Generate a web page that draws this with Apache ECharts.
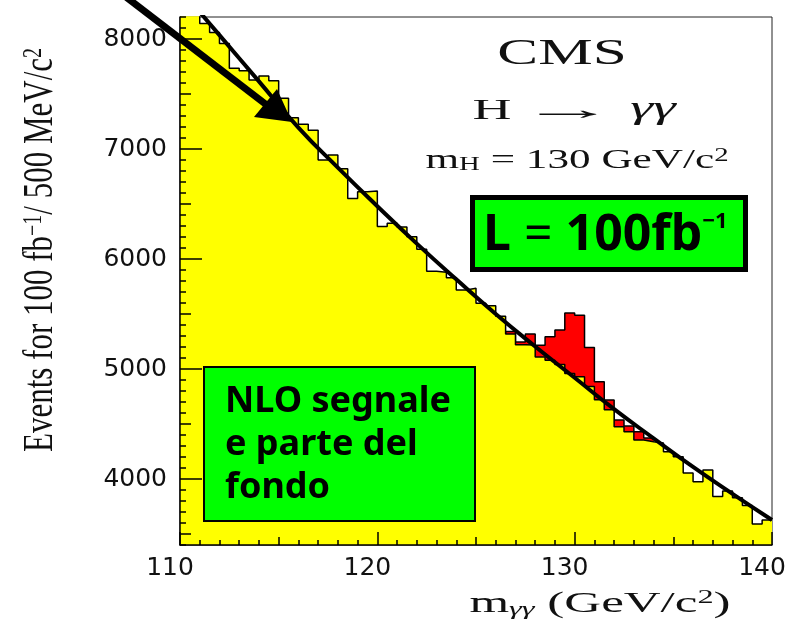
<!DOCTYPE html>
<html>
<head>
<meta charset="utf-8">
<script src="https://cdn.jsdelivr.net/npm/echarts@6/dist/echarts.min.js"></script>
<style>
  html, body { margin: 0; padding: 0; background: #ffffff; }
  #chart { width: 792px; height: 629px; }
</style>
</head>
<body>
<div id="chart"></div>
<script>
// ---- data ----
// low edges of the 0.5 GeV bins
const binLow = [110, 110.5, 111, 111.5, 112, 112.5, 113, 113.5, 114, 114.5,
  115, 115.5, 116, 116.5, 117, 117.5, 118, 118.5, 119, 119.5,
  120, 120.5, 121, 121.5, 122, 122.5, 123, 123.5, 124, 124.5,
  125, 125.5, 126, 126.5, 127, 127.5, 128, 128.5, 129, 129.5,
  130, 130.5, 131, 131.5, 132, 132.5, 133, 133.5, 134, 134.5,
  135, 135.5, 136, 136.5, 137, 137.5, 138, 138.5, 139, 139.5];
const histHigh = 140;
// yellow histogram (background) events per bin
const background = [8450, 8300, 8140, 8060, 7960, 7734, 7712, 7627, 7664, 7621,
  7461, 7285, 7225, 7170, 6900, 6945, 6820, 6550, 6612, 6618,
  6296, 6326, 6290, 6203, 6088, 5888, 5880, 5830, 5718, 5735,
  5597, 5575, 5480, 5318, 5220, 5218, 5110, 5080, 5040, 4960,
  4930, 4840, 4720, 4630, 4476, 4430, 4355, 4339, 4327, 4248,
  4203, 4054, 3975, 4082, 3840, 3890, 3830, 3760, 3590, 3627];
// red histogram (signal + background) in the signal region
const signalBinLow = [126.5, 127, 127.5, 128, 128.5, 129, 129.5, 130, 130.5, 131,
  131.5, 132, 132.5, 133, 133.5];
const signalHigh = 134;
const signalTotal = [5340, 5245, 5318, 5215, 5294, 5355, 5510, 5488, 5195, 4885,
  4718, 4536, 4482, 4430, 4372];
// fitted curve
const fitMass = [111, 112, 114, 116, 118, 120, 122, 124, 126, 128, 130, 132, 134, 136, 138, 140];
const fitValue = [8245, 8035, 7615, 7195, 6830, 6480, 6140, 5815, 5500, 5205, 4920, 4635, 4370, 4110, 3865, 3627];
// ticks
const xTickLabels = [110, 120, 130, 140];
const xMidTicks = [115, 125, 135];
const yTickLabels = [4000, 5000, 6000, 7000, 8000];
const yMidTicks = [3500, 4500, 5500, 6500, 7500];

// ---- build series data ----
const yellowData = binLow.map((x, i) => [x, background[i]]);
yellowData.push([histHigh, background[background.length - 1]]);
const firstSig = binLow.indexOf(signalBinLow[0]);
const redData = [[signalBinLow[0], background[firstSig]]]
  .concat(signalBinLow.map((x, i) => [x, signalTotal[i]]));
redData.push([signalHigh, signalTotal[signalTotal.length - 1]]);
const fitData = fitMass.map((x, i) => [x, fitValue[i]]);

const chart = echarts.init(document.getElementById('chart'), null, { renderer: 'canvas' });

const black = '#000000';
const xBase = { type: 'value', min: 110, max: 140, position: 'bottom', z: 10, splitLine: { show: false } };
const yBase = { type: 'value', min: 3400, max: 8200, position: 'left', z: 10, splitLine: { show: false } };

const serif = 'Liberation Serif';
const option = {
  animation: false,
  backgroundColor: '#ffffff',
  grid: { left: 180, right: 20, top: 17, bottom: 84, show: true, borderColor: '#222', borderWidth: 1, backgroundColor: '#ffffff' },
  xAxis: [
    Object.assign({}, xBase, {
      axisLine: { show: true, onZero: false, lineStyle: { color: black, width: 1.5 } },
      axisTick: { show: true, inside: true, length: 13, customValues: xTickLabels, lineStyle: { color: black, width: 1.5 } },
      axisLabel: { show: true, customValues: xTickLabels, formatter: v => String(v), fontFamily: 'DejaVu Sans', fontSize: 25, color: '#111', margin: 11, padding: [0, 20, 0, 0] }
    }),
    Object.assign({}, xBase, {
      axisLine: { show: false },
      axisTick: { show: true, inside: true, length: 8, customValues: xMidTicks, lineStyle: { color: black, width: 1.5 } },
      axisLabel: { show: false }
    }),
    Object.assign({}, xBase, {
      interval: 1,
      axisLine: { show: false },
      axisTick: { show: true, inside: true, length: 5, lineStyle: { color: black, width: 1.5 } },
      axisLabel: { show: false }
    })
  ],
  yAxis: [
    Object.assign({}, yBase, {
      axisLine: { show: true, onZero: false, lineStyle: { color: black, width: 1.5 } },
      axisTick: { show: true, inside: true, length: 22, customValues: yTickLabels, lineStyle: { color: black, width: 1.5 } },
      axisLabel: { show: true, customValues: yTickLabels, formatter: v => String(v), fontFamily: 'DejaVu Sans', fontSize: 25, color: '#111', margin: 13 }
    }),
    Object.assign({}, yBase, {
      axisLine: { show: false },
      axisTick: { show: true, inside: true, length: 11, customValues: yMidTicks, lineStyle: { color: black, width: 1.5 } },
      axisLabel: { show: false }
    }),
    Object.assign({}, yBase, {
      interval: 100,
      axisLine: { show: false },
      axisTick: { show: true, inside: true, length: 6, lineStyle: { color: black, width: 1.5 } },
      axisLabel: { show: false }
    })
  ],
  series: [
    {
      name: 'Segnale', type: 'line', step: 'end', data: redData, xAxisIndex: 0, yAxisIndex: 0,
      symbol: 'none', showSymbol: false, z: 2,
      lineStyle: { color: black, width: 1.5 },
      areaStyle: { color: '#ff0000', opacity: 1, origin: 'start' }
    },
    {
      name: 'Fondo', type: 'line', step: 'end', data: yellowData, xAxisIndex: 0, yAxisIndex: 0,
      symbol: 'none', showSymbol: false, z: 3,
      lineStyle: { color: black, width: 1.5 },
      areaStyle: { color: '#ffff00', opacity: 1, origin: 'start' }
    },
    {
      name: 'Fit', type: 'line', data: fitData, xAxisIndex: 0, yAxisIndex: 0,
      symbol: 'none', showSymbol: false, smooth: true, z: 4,
      lineStyle: { color: black, width: 4 }
    }
  ],
  graphic: [
    // big arrow
    { type: 'line', z: 100, shape: { x1: 126, y1: -3, x2: 268, y2: 106 }, style: { stroke: black, lineWidth: 7 } },
    { type: 'polygon', z: 100, shape: { points: [[292, 122], [254, 117], [277, 89]] }, style: { fill: black } },
    // CMS labels
    { type: 'text', z: 50, x: 562, y: 55, scaleX: 1.75,
      style: { text: 'CMS', fontFamily: serif, fontSize: 35, fill: '#111', align: 'center', verticalAlign: 'middle' } },
    { type: 'text', z: 50, x: 492, y: 111, scaleX: 1.8,
      style: { text: 'H', fontFamily: serif, fontSize: 30, fill: '#111', align: 'center', verticalAlign: 'middle' } },
    { type: 'text', z: 50, x: 568, y: 111, scaleX: 3.2,
      style: { text: '→', fontFamily: serif, fontSize: 30, fill: '#111', align: 'center', verticalAlign: 'middle' } },
    { type: 'text', z: 50, x: 653, y: 110, scaleX: 1.8,
      style: { text: 'γγ', fontFamily: serif, fontStyle: 'italic', fontSize: 32, fill: '#111', align: 'center', verticalAlign: 'middle' } },
    { type: 'text', z: 50, x: 577, y: 161, scaleX: 1.6,
      style: {
        text: '{t|m}{sub|H}{t| = 130 GeV/c}{sup|2}', align: 'center', verticalAlign: 'middle',
        rich: {
          t: { fontFamily: serif, fontSize: 27, lineHeight: 27, fill: '#111' },
          sub: { fontFamily: serif, fontSize: 18, lineHeight: 10, verticalAlign: 'bottom', fill: '#111' },
          sup: { fontFamily: serif, fontSize: 18, lineHeight: 10, verticalAlign: 'top', fill: '#111' }
        }
      } },
    // luminosity box
    { type: 'rect', z: 50, shape: { x: 472.5, y: 197.5, width: 273, height: 72 },
      style: { fill: '#00ff00', stroke: black, lineWidth: 5 } },
    { type: 'text', z: 51, x: 483, y: 236,
      style: {
        text: '{b|L}{e| = }{b|100fb}{s|−1}', align: 'left', verticalAlign: 'middle',
        rich: {
          b: { fontFamily: 'Noto Sans', fontWeight: 'bold', fontSize: 50, lineHeight: 50, fill: black },
          e: { fontFamily: 'Noto Sans', fontSize: 50, lineHeight: 50, fill: black },
          s: { fontFamily: 'Noto Sans', fontWeight: 'bold', fontSize: 22, lineHeight: 30, verticalAlign: 'top', fill: black }
        }
      } },
    // NLO box
    { type: 'rect', z: 50, shape: { x: 204, y: 367, width: 271, height: 154 },
      style: { fill: '#00ff00', stroke: black, lineWidth: 2 } },
    { type: 'text', z: 51, x: 225, y: 380,
      style: { text: 'NLO segnale\ne parte del\nfondo', fontFamily: 'Noto Sans', fontWeight: 'bold', fontSize: 36,
        lineHeight: 43, fill: black, align: 'left', verticalAlign: 'top' } },
    // axis titles
    { type: 'text', z: 50, x: 600, y: 604, scaleX: 1.7,
      style: {
        text: '{t|m}{sub|γγ}{t| (GeV/c}{sup|2}{t|)}', align: 'center', verticalAlign: 'middle',
        rich: {
          t: { fontFamily: serif, fontSize: 30, lineHeight: 30, fill: '#111' },
          sub: { fontFamily: serif, fontStyle: 'italic', fontSize: 19, lineHeight: 12, verticalAlign: 'bottom', fill: '#111' },
          sup: { fontFamily: serif, fontSize: 19, lineHeight: 12, verticalAlign: 'top', fill: '#111' }
        }
      } },
    { type: 'text', z: 50, x: 41, y: 250, rotation: Math.PI / 2, scaleY: 1.35,
      style: {
        text: '{t|Events for 100 fb}{sup|−1}{t|/ 500 MeV/c}{sup|2}', align: 'center', verticalAlign: 'middle',
        rich: {
          t: { fontFamily: serif, fontSize: 31, lineHeight: 31, fill: '#111' },
          sup: { fontFamily: serif, fontSize: 20, lineHeight: 12, verticalAlign: 'top', fill: '#111' }
        }
      } }
  ]
};
chart.setOption(option);
</script>
</body>
</html>
